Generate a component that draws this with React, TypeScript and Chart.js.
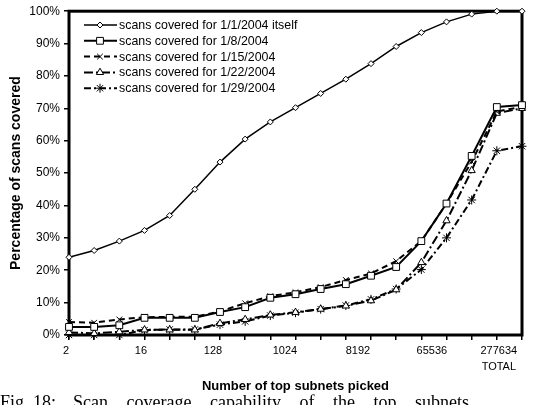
import React, { useEffect, useRef } from 'react';
import { Chart, registerables } from 'chart.js';
import { drawPoint } from 'chart.js/helpers';

Chart.register(...registerables);

// ---- data ----
const CATEGORIES = ['2', '4', '8', '16', '32', '64', '128', '256', '512', '1024', '2048', '4096', '8192', '16384', '32768', '65536', '131072', '262144', '277634'];
const X_TICK_LABELS: (string | string[])[] = ['2', '16', '128', '1024', '8192', '65536', ['277634', 'TOTAL']];

const SERIES_NAMES = [
  'scans covered for 1/1/2004 itself',
  'scans covered for 1/8/2004',
  'scans covered for 1/15/2004',
  'scans covered for 1/22/2004',
  'scans covered for 1/29/2004',
];

const S_0101 = [24, 26.1, 29, 32.3, 36.9, 45, 53.4, 60.5, 65.8, 70.2, 74.6, 79, 83.8, 89.1, 93.4, 96.7, 99.1, 100, 100];
const S_0108 = [2.5, 2.5, 3, 5.3, 5.3, 5.3, 7.1, 8.6, 11.5, 12.6, 14.2, 15.7, 18.3, 21, 29, 40.6, 55.3, 70.4, 71];
const S_0115 = [4, 3.8, 4.8, 5.5, 5.6, 5.6, 7.3, 9.8, 12, 13.2, 14.8, 17, 19, 22.8, 29, 40.6, 53.5, 69, 70.5];
const S_0122 = [0.8, 0.5, 1, 1.6, 1.6, 1.6, 3.6, 4.8, 6.2, 7, 8, 9, 10.6, 14, 22.4, 35.3, 50.8, 68.5, 70];
const S_0129 = [0, 0, 0, 1.5, 1.7, 1.7, 3.2, 4.2, 6, 6.9, 8, 9.1, 11, 14.2, 20.2, 30, 41.7, 56.9, 58.3];

// ---- layout constants (label placement along the category axis, in category units) ----
const X_LABEL_POS = [-0.12, 2.86, 5.72, 8.58, 11.48, 14.42, 17.08];

const FONT = '"Liberation Sans", Arial, sans-serif';

const boxPlugin = {
  id: 'boxBorder',
  beforeDatasetsDraw(chart: any) {
    const { ctx, chartArea } = chart;
    ctx.save();
    ctx.strokeStyle = '#000';
    ctx.lineWidth = 3;
    ctx.setLineDash([]);
    ctx.strokeRect(chartArea.left, chartArea.top, chartArea.right - chartArea.left, chartArea.bottom - chartArea.top);
    ctx.restore();
  },
};

const legendPlugin = {
  id: 'lineLegend',
  afterDraw(chart: any) {
    const ctx = chart.ctx;
    ctx.save();
    chart.data.datasets.forEach((ds: any, i: number) => {
      const y = 25 + i * 15.8;
      const x0 = 84;
      const x1 = 117;
      const xm = 100;
      ctx.beginPath();
      ctx.setLineDash(ds.borderDash || []);
      ctx.lineWidth = ds.borderWidth;
      ctx.strokeStyle = '#000';
      ctx.moveTo(x0, y);
      ctx.lineTo(x1, y);
      ctx.stroke();
      ctx.setLineDash([]);
      ctx.fillStyle = '#fff';
      ctx.strokeStyle = '#000';
      ctx.lineWidth = 1;
      drawPoint(ctx, { pointStyle: ds.pointStyle, radius: ds.pointRadius, rotation: 0, borderWidth: 1 } as any, xm, y);
      ctx.fillStyle = '#000';
      ctx.font = '12.4px ' + FONT;
      ctx.textBaseline = 'middle';
      ctx.textAlign = 'left';
      ctx.fillText(ds.label, 119, y + 0.5);
    });
    ctx.restore();
  },
};

function mk(label: string, data: number[], style: string, radius: number, dash: number[], width: number) {
  return {
    label,
    data,
    borderColor: '#000',
    borderWidth: width,
    borderDash: dash,
    pointStyle: style,
    pointRadius: radius,
    pointHoverRadius: radius,
    pointBackgroundColor: '#fff',
    pointBorderColor: '#000',
    pointBorderWidth: 1,
    fill: false,
    tension: 0,
    clip: false as any,
  };
}

export default function App() {
  const ref = useRef<HTMLCanvasElement>(null);
  useEffect(() => {
    if (!ref.current) return;
    const chart = new Chart(ref.current, {
      type: 'line',
      data: {
        labels: CATEGORIES,
        datasets: [
          mk(SERIES_NAMES[0], S_0101, 'rectRot', 3, [], 1.5),
          mk(SERIES_NAMES[1], S_0108, 'rect', 4.8, [], 2),
          mk(SERIES_NAMES[2], S_0115, 'crossRot', 4, [6, 4], 2),
          mk(SERIES_NAMES[3], S_0122, 'triangle', 4.2, [9, 3, 2, 3], 2),
          mk(SERIES_NAMES[4], S_0129, 'star', 4.5, [7, 3, 2, 3], 2),
        ] as any,
      },
      options: {
        responsive: false,
        animation: false,
        layout: { padding: { top: 7, right: 21, left: 0, bottom: 0 } },
        plugins: { legend: { display: false }, tooltip: { enabled: false } },
        scales: {
          x: {
            type: 'category',
            position: 'bottom',
            weight: 0,
            offset: false,
            grid: { display: true, drawOnChartArea: false, drawTicks: true, tickLength: 5, color: '#000', lineWidth: 1.5, offset: false },
            border: { display: false },
            ticks: { display: false, autoSkip: false },
            afterFit: (s: any) => { s.height = 6; },
          },
          xl: {
            type: 'linear',
            position: 'bottom',
            weight: 1,
            min: 0,
            max: 18,
            grid: { display: false, drawTicks: false },
            border: { display: false },
            afterBuildTicks: (s: any) => { s.ticks = X_LABEL_POS.map((v) => ({ value: v })); },
            ticks: {
              autoSkip: false,
              maxRotation: 0,
              minRotation: 0,
              padding: 2,
              color: '#000',
              font: { family: FONT, size: 11, lineHeight: 1.45 },
              callback: (_v: any, i: number) => X_TICK_LABELS[i] as any,
            },
            title: {
              display: true,
              text: 'Number of top subnets picked',
              color: '#000',
              font: { family: FONT, size: 13, weight: 'bold' },
              padding: { top: 0, bottom: 11 },
            },
            afterFit: (s: any) => { s.height = 64; },
          },
          y: {
            type: 'linear',
            min: 0,
            max: 100,
            grid: { display: true, drawOnChartArea: false, drawTicks: true, tickLength: 5, color: '#000', lineWidth: 1.5 },
            border: { display: false },
            ticks: {
              stepSize: 10,
              padding: 4,
              color: '#000',
              font: { family: FONT, size: 12 },
              callback: (v: any) => v + '%',
            },
            title: {
              display: true,
              text: 'Percentage of scans covered',
              color: '#000',
              font: { family: FONT, size: 14, weight: 'bold' },
              padding: { top: 8, bottom: 0 },
            },
            afterFit: (s: any) => { s.width = 69; },
          },
        } as any,
      },
      plugins: [boxPlugin, legendPlugin],
    });
    return () => chart.destroy();
  }, []);

  return (
    <div style={{ position: 'fixed', left: 0, top: 0, width: 543, height: 405, background: '#fff', overflow: 'hidden' }}>
      <canvas ref={ref} width={543} height={405} style={{ position: 'absolute', left: 0, top: 0, width: 543, height: 405 }} />
      <div
        style={{
          position: 'absolute',
          left: 0,
          top: 392,
          width: 543,
          fontFamily: '"Liberation Serif", "Times New Roman", serif',
          fontSize: 18,
          whiteSpace: 'nowrap',
          color: '#000',
        }}
      >
        <span>Fig. 18:</span>
        <span style={{ marginLeft: 17, wordSpacing: 14 }}>Scan coverage capability of the top subnets</span>
      </div>
    </div>
  );
}
